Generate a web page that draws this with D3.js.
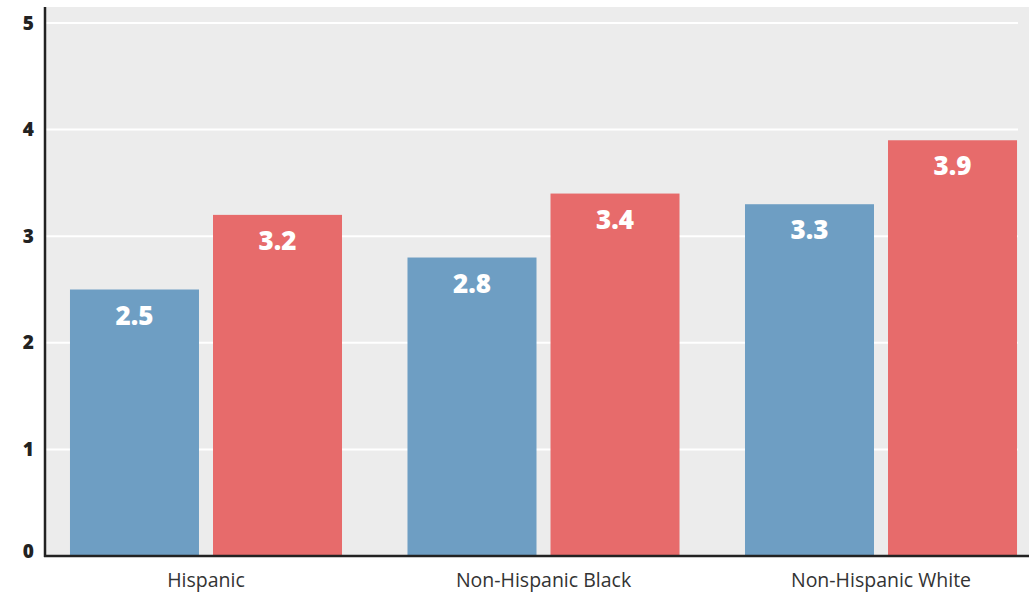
<!DOCTYPE html>
<html>
<head>
<meta charset="utf-8">
<script src="https://cdn.jsdelivr.net/npm/d3@7"></script>
<style>
  body { margin: 0; background: #fff; }
  svg { display: block; font-family: "Open Sans", "Noto Sans", sans-serif; }
</style>
</head>
<body>
<div id="chart"></div>
<script>
var groups = ["Hispanic", "Non-Hispanic Black", "Non-Hispanic White"];
var seriesKeys = ["a", "b"];
var seriesA = [2.5, 2.8, 3.3];
var seriesB = [3.2, 3.4, 3.9];
var yTicks = [0, 1, 2, 3, 4, 5];
var colors = { a: "#6e9ec3", b: "#e76b6b" };

var width = 1029, height = 592;
var plotLeft = 45, plotTop = 7, plotBottom = 556, gridRight = 1018;

var svg = d3.select("#chart").append("svg")
    .attr("width", width)
    .attr("height", height);

var x0 = d3.scaleBand()
    .domain(groups)
    .range([plotLeft, 1042])
    .paddingInner(0.194)
    .paddingOuter(0.074);

var x1 = d3.scaleBand()
    .domain(seriesKeys)
    .range([0, x0.bandwidth()])
    .paddingInner(0.098);

var y = d3.scaleLinear()
    .domain([0, 5])
    .range([plotBottom, 23]);

// background
svg.append("rect")
    .attr("x", plotLeft)
    .attr("y", plotTop)
    .attr("width", width - plotLeft)
    .attr("height", plotBottom - plotTop)
    .attr("fill", "#ececec");

// gridlines
svg.append("g")
    .selectAll("line")
    .data(yTicks.filter(function (d) { return d > 0; }))
    .enter().append("line")
    .attr("x1", plotLeft)
    .attr("x2", gridRight)
    .attr("y1", function (d) { return y(d); })
    .attr("y2", function (d) { return y(d); })
    .attr("stroke", "#fff")
    .attr("stroke-width", 2);

var rows = groups.map(function (g, i) {
    return { group: g, values: [{ key: "a", v: seriesA[i] }, { key: "b", v: seriesB[i] }] };
});

var gg = svg.append("g")
    .selectAll("g")
    .data(rows)
    .enter().append("g")
    .attr("transform", function (d) { return "translate(" + x0(d.group) + ",0)"; });

gg.selectAll("rect")
    .data(function (d) { return d.values; })
    .enter().append("rect")
    .attr("x", function (d) { return x1(d.key); })
    .attr("y", function (d) { return y(d.v); })
    .attr("width", x1.bandwidth())
    .attr("height", function (d) { return y(0) - y(d.v); })
    .attr("fill", function (d) { return colors[d.key]; });

gg.selectAll("text")
    .data(function (d) { return d.values; })
    .enter().append("text")
    .attr("x", function (d) { return x1(d.key) + x1.bandwidth() / 2; })
    .attr("y", function (d) { return y(d.v) + 35; })
    .attr("text-anchor", "middle")
    .attr("fill", "#fff")
    .style("font-size", "26px")
    .style("font-weight", "800")
    .text(function (d) { return d.v.toFixed(1); });

// y axis
var yAxis = svg.append("g")
    .attr("transform", "translate(" + plotLeft + ",0)")
    .call(d3.axisLeft(y).tickValues(yTicks).tickSize(0).tickPadding(11).tickFormat(d3.format("d")));
yAxis.select(".domain")
    .attr("d", "M0," + plotTop + "V" + (plotBottom + 1))
    .attr("stroke", "#222")
    .attr("stroke-width", 2.5);
yAxis.selectAll("text")
    .attr("fill", "#222")
    .style("font-size", "19px")
    .style("font-weight", "800")
    .style("font-family", "'Open Sans', sans-serif")
    .attr("dy", function (d) { return d === 0 ? "0.1em" : "0.32em"; });

// x axis
var xAxis = svg.append("g")
    .attr("transform", "translate(0," + plotBottom + ")")
    .call(d3.axisBottom(x0).tickSize(0).tickPadding(17));
xAxis.select(".domain")
    .attr("d", "M" + (plotLeft - 1) + ",0H" + width)
    .attr("stroke", "#222")
    .attr("stroke-width", 2.5);
xAxis.selectAll("text")
    .attr("fill", "#333")
    .style("font-size", "19.5px")
    .style("font-family", "'Open Sans', sans-serif");
</script>
</body>
</html>
